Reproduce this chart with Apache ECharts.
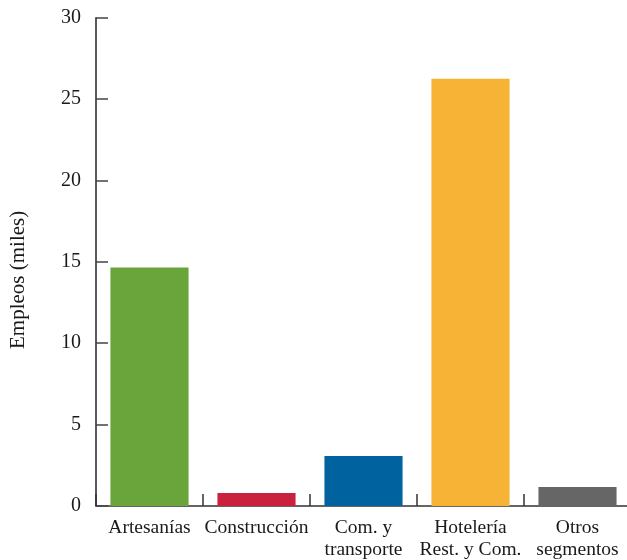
<!DOCTYPE html>
<html>
<head>
<meta charset="utf-8">
<script src="https://cdn.jsdelivr.net/npm/echarts@6/dist/echarts.min.js"></script>
<style>
  html, body { margin: 0; padding: 0; background: #fff; }
  #chart { width: 627px; height: 560px; }
</style>
</head>
<body>
<div id="chart"></div>
<script>
// Employment by segment, in thousands
const categories = ['Artesanías', 'Construcción', 'Com. y\ntransporte', 'Hotelería\nRest. y Com.', 'Otros\nsegmentos'];
const empleos = [14.65, 0.8, 3.07, 26.25, 1.17];
const barColors = ['#6aa53b', '#c8223f', '#0063a0', '#f6b335', '#666666'];
const yTicks = [0, 5, 10, 15, 20, 25, 30];

const fontFamily = '"Liberation Serif", "DejaVu Serif", serif';

const chart = echarts.init(document.getElementById('chart'), null, { renderer: 'canvas' });
chart.setOption({
  animation: false,
  backgroundColor: '#ffffff',
  grid: {
    left: 96, top: 17.7, width: 535, bottom: 54,
    containLabel: false, outerBoundsMode: 'none'
  },
  xAxis: {
    type: 'category',
    data: categories,
    axisLine: { lineStyle: { color: '#333', width: 1.5 } },
    axisTick: { show: true, inside: true, length: 12, lineStyle: { color: '#333', width: 1.5 } },
    axisLabel: {
      color: '#1a1a1a', fontFamily: fontFamily, fontSize: 19.5,
      lineHeight: 22, margin: 11, interval: 0
    }
  },
  yAxis: {
    type: 'value',
    min: yTicks[0],
    max: yTicks[yTicks.length - 1],
    interval: 5,
    name: 'Empleos (miles)',
    nameLocation: 'middle',
    nameGap: 67,
    nameTextStyle: {
      color: '#1a1a1a', fontFamily: fontFamily, fontSize: 21,
      padding: [0, 36, 0, 0]
    },
    axisLine: { show: true, lineStyle: { color: '#222', width: 1.5 } },
    axisTick: { show: true, inside: true, length: 12, lineStyle: { color: '#444', width: 1.5 } },
    axisLabel: { color: '#1a1a1a', fontFamily: fontFamily, fontSize: 20, margin: 15 },
    splitLine: { show: false }
  },
  series: [{
    type: 'bar',
    data: empleos.map((v, i) => ({ value: v, itemStyle: { color: barColors[i] } })),
    barWidth: '73%'
  }]
});
</script>
</body>
</html>
